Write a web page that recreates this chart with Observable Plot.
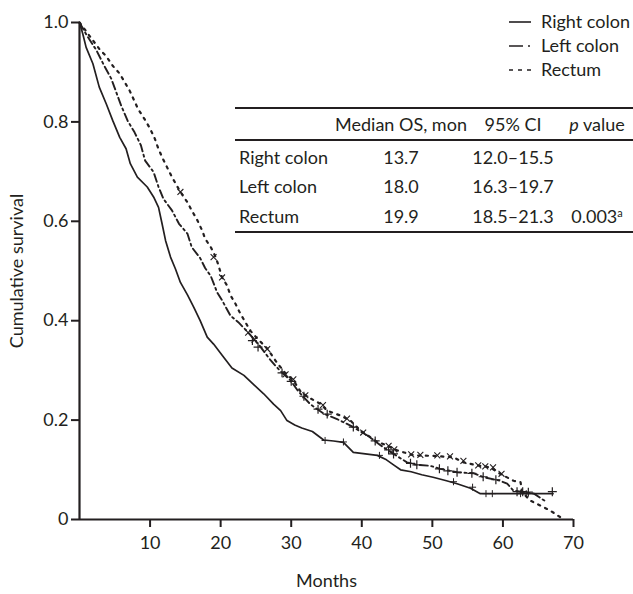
<!DOCTYPE html>
<html><head><meta charset="utf-8">
<script src="https://cdn.jsdelivr.net/npm/d3@7"></script>
<script src="https://cdn.jsdelivr.net/npm/@observablehq/plot@0.6"></script>
<style>
html,body{margin:0;padding:0;background:#fff;}
#wrap{position:relative;width:633px;height:594px;}
#wrap svg{position:absolute;left:0;top:0;}
</style></head><body><div id="wrap"></div>
<script>
// ---- data: [months, cumulative survival] ----
const rightColon = [[0,1],[0.47,0.977],[0.94,0.95],[1.9,0.917],[2.8,0.87],[3.8,0.836],[4.7,0.803],[5.7,0.769],[6.6,0.746],[7.2,0.716],[8.2,0.689],[9.6,0.669],[10.5,0.649],[11.2,0.628],[11.7,0.595],[12.2,0.561],[12.9,0.528],[13.6,0.504],[14.3,0.477],[15.3,0.452],[16.2,0.427],[17.1,0.4],[18.1,0.367],[19.0,0.353],[20.4,0.327],[21.6,0.305],[23.3,0.29],[24.8,0.27],[26.1,0.253],[27.5,0.232],[28.5,0.219],[29.4,0.199],[30.5,0.19],[31.5,0.184],[33.0,0.177],[34.6,0.16],[36.0,0.158],[37.4,0.155],[38.8,0.135],[40.5,0.132],[42.2,0.129],[43.5,0.12],[44.5,0.11],[45.5,0.1],[47.0,0.096],[48.5,0.09],[50.1,0.085],[52.0,0.078],[53.5,0.072],[55.4,0.063],[56.8,0.052],[67.1,0.052]];
const leftColon = [[0,1],[1.0,0.975],[2.4,0.944],[3.5,0.913],[4.5,0.887],[5.2,0.86],[5.9,0.833],[6.8,0.803],[7.8,0.779],[8.7,0.753],[9.3,0.722],[10.5,0.699],[11.2,0.669],[11.9,0.645],[13.1,0.622],[14.1,0.595],[15.3,0.575],[15.9,0.548],[17.1,0.526],[17.8,0.506],[18.6,0.49],[19.5,0.457],[20.2,0.441],[21.4,0.41],[22.5,0.397],[23.8,0.378],[25.5,0.35],[27.1,0.32],[28.5,0.298],[29.9,0.28],[31.0,0.258],[32.7,0.232],[34.6,0.213],[36.5,0.202],[38.4,0.189],[40.8,0.169],[42.7,0.149],[44.5,0.132],[46.4,0.115],[47.8,0.11],[49.7,0.108],[51.1,0.102],[53.5,0.095],[55.9,0.093],[57.3,0.085],[59.6,0.078],[60.6,0.072],[61.5,0.058],[64.4,0.052],[66.2,0.035]];
const rectum = [[0,1],[0.8,0.985],[1.9,0.964],[2.8,0.947],[3.8,0.932],[4.7,0.913],[5.7,0.897],[7.1,0.863],[8.3,0.826],[9.2,0.806],[9.9,0.789],[10.6,0.769],[11.1,0.749],[11.7,0.729],[12.4,0.709],[13.1,0.689],[14.3,0.659],[15.3,0.638],[15.9,0.622],[16.7,0.602],[17.4,0.581],[17.8,0.565],[18.6,0.548],[19.3,0.528],[19.7,0.511],[20.2,0.487],[20.9,0.471],[21.4,0.451],[22.1,0.434],[22.8,0.414],[23.5,0.397],[24.2,0.38],[25.0,0.367],[26.6,0.344],[28.0,0.315],[29.2,0.294],[30.3,0.28],[31.3,0.258],[32.3,0.247],[34.1,0.233],[35.1,0.219],[37.0,0.209],[38.4,0.199],[39.8,0.179],[42.2,0.156],[43.6,0.149],[45.0,0.139],[47.4,0.129],[50.2,0.128],[53.0,0.125],[54.4,0.115],[56.3,0.109],[58.2,0.105],[59.6,0.092],[61.5,0.078],[62.5,0.075],[62.7,0.055],[63.9,0.038],[65.3,0.028],[66.7,0.018],[68.1,0.005]];

// censoring marks
const rectumCensor = [[14.3,0.659],[19.0,0.528],[20.2,0.487],[23.9,0.376],[24.8,0.362],[26.6,0.343],[29.2,0.292],[30.3,0.282],[32.0,0.25],[34.5,0.23],[37.9,0.203],[40.2,0.175],[43.8,0.148],[44.6,0.141],[47.0,0.131],[48.3,0.13],[50.7,0.129],[52.5,0.127],[54.4,0.118],[56.5,0.109],[57.5,0.107],[58.6,0.105],[59.8,0.092]];
const leftCensor = [[24.5,0.36],[25.3,0.347],[28.7,0.295],[30.0,0.278],[31.8,0.248],[33.8,0.222],[35.1,0.212],[38.8,0.186],[41.9,0.158],[43.8,0.14],[44.5,0.132],[46.9,0.113],[47.8,0.11],[51.0,0.102],[52.2,0.098],[53.5,0.095],[55.6,0.093],[57.2,0.086],[59.0,0.08],[62.0,0.056],[62.8,0.056],[63.6,0.055],[67.0,0.056]];
const rightCensor = [[34.8,0.159],[37.4,0.156],[42.5,0.129],[53.0,0.076],[55.7,0.065],[57.6,0.052],[58.5,0.052],[62.5,0.052],[63.3,0.052]];

// axes
const xTicks = [10,20,30,40,50,60,70];
const yTicks = [0,0.2,0.4,0.6,0.8,1.0];
const xDomain = [0,70];
const yDomain = [0,1];

// legend + table
const groups = ["Right colon","Left colon","Rectum"];
const legendDash = [null,"14,5,2,10","4,5"];
const tableHeader = ["Median OS, mon","95% CI","p value"];
const medians = ["13.7","18.0","19.9"];
const cis = ["12.0–15.5","16.3–19.7","18.5–21.3"];
const pValue = "0.003";
const pNote = "a";

const ink = "#231f20";
const font = "Lato, 'Open Sans', sans-serif";
const fs = 18;
const px = d => d[0], py = d => d[1];

const chart = Plot.plot({
  width: 633, height: 594,
  marginLeft: 79, marginRight: 60, marginTop: 22, marginBottom: 75,
  style: {fontFamily: font, fontSize: fs + "px", color: ink, background: "white"},
  x: {domain: xDomain},
  y: {domain: yDomain},
  marks: [
    Plot.axisX({ticks: xTicks, tickSize: 8, tickPadding: 9, strokeWidth: 2, fontSize: fs,
      label: "Months", labelAnchor: "center", labelArrow: "none", labelOffset: 67}),
    Plot.axisY({ticks: yTicks, tickSize: 8, tickPadding: 3, strokeWidth: 2, fontSize: fs,
      tickFormat: d => d === 0 ? "0" : d.toFixed(1),
      label: "Cumulative survival", labelAnchor: "center", labelArrow: "none", labelOffset: 69}),
    Plot.ruleX([xDomain[0]], {y1: yDomain[0], y2: yDomain[1], stroke: ink, strokeWidth: 2.2}),
    Plot.ruleY([yDomain[0]], {x1: xDomain[0], x2: xDomain[1], stroke: ink, strokeWidth: 2.2}),
    Plot.line(rightColon, {x: px, y: py, stroke: ink, strokeWidth: 1.7}),
    Plot.line(leftColon, {x: px, y: py, stroke: ink, strokeWidth: 1.9, strokeDasharray: "8,3.5,2,3.5"}),
    Plot.line(rectum, {x: px, y: py, stroke: ink, strokeWidth: 2.2, strokeDasharray: "2.2,5.5"}),
    Plot.dot(rectumCensor, {x: px, y: py, symbol: "times", r: 2.8, stroke: ink, strokeWidth: 1.1}),
    Plot.dot(leftCensor, {x: px, y: py, symbol: "plus", r: 3, stroke: ink, strokeWidth: 1.2}),
    Plot.dot(rightCensor, {x: px, y: py, symbol: "plus", r: 2.4, stroke: ink, strokeWidth: 1})
  ]
});
const wrap = document.getElementById("wrap");
wrap.appendChild(chart);

// overlay: legend and summary table
const ov = d3.select(wrap).append("svg").attr("width",633).attr("height",594)
  .style("font-family", font).style("font-size", fs + "px").attr("fill", ink);

const legY = [22,46,70];
groups.forEach((g,i) => {
  const l = ov.append("line").attr("x1",509).attr("x2",531).attr("y1",legY[i]).attr("y2",legY[i])
    .attr("stroke",ink).attr("stroke-width",1.6);
  if (legendDash[i]) l.attr("stroke-dasharray",legendDash[i]);
  ov.append("text").attr("x",541).attr("y",legY[i]).attr("dy","0.35em").text(g);
});

[108,140,232].forEach(y => ov.append("line").attr("x1",235).attr("x2",633).attr("y1",y).attr("y2",y)
  .attr("stroke",ink).attr("stroke-width",1.8));

const colX = [401,513,597];
const headY = 125, rowY = [158,187,217];
tableHeader.forEach((h,i) => {
  const t = ov.append("text").attr("x",colX[i]).attr("y",headY).attr("dy","0.35em").attr("text-anchor","middle");
  if (i === 2) { t.append("tspan").attr("font-style","italic").text("p"); t.append("tspan").text(" value"); }
  else t.text(h);
});
groups.forEach((g,i) => {
  ov.append("text").attr("x",239).attr("y",rowY[i]).attr("dy","0.35em").text(g);
  ov.append("text").attr("x",colX[0]).attr("y",rowY[i]).attr("dy","0.35em").attr("text-anchor","middle").text(medians[i]);
  ov.append("text").attr("x",colX[1]).attr("y",rowY[i]).attr("dy","0.35em").attr("text-anchor","middle").text(cis[i]);
});
const pt = ov.append("text").attr("x",colX[2]).attr("y",rowY[2]).attr("dy","0.35em").attr("text-anchor","middle");
pt.append("tspan").text(pValue);
pt.append("tspan").attr("dy","-0.55em").attr("font-size","11px").text(pNote);
</script>
</body></html>
